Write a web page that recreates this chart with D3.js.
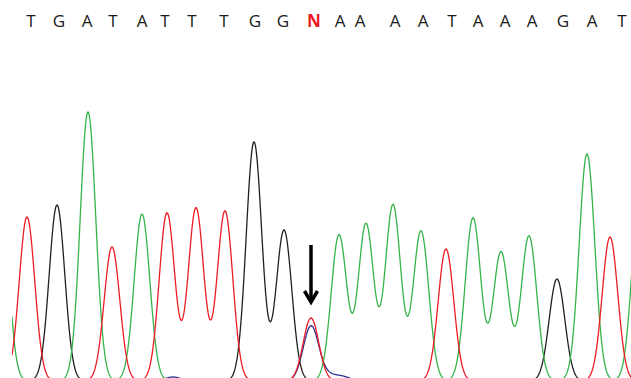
<!DOCTYPE html>
<html>
<head>
<meta charset="utf-8">
<script src="https://cdn.jsdelivr.net/npm/d3@7"></script>
<style>
  html, body { margin: 0; padding: 0; background: #fff; }
  svg { display: block; }
</style>
</head>
<body>
<div id="chart"></div>
<script>
// base calls and where they sit along the scan axis
const bases = ["T","G","A","T","A","T","T","T","G","G","N","A","A","A","A","T","A","A","A","G","A","T"];
const basePos = [31, 59, 87, 113, 142, 165, 192, 224, 255, 283, 314, 340, 360, 395, 423, 452, 478, 505, 532, 563, 592, 622];

// peak positions (scan) and heights (signal) for each dye channel
const peaksA = [[0, 210], [88, 269], [142, 167], [339, 146], [366, 157], [393, 176], [421, 150], [473, 163], [501, 129], [529, 145], [587, 227], [640, 190]];
const peaksT = [[27, 164], [112, 134], [167, 168], [196, 173], [225, 170], [311, 63], [446, 132], [610, 144]];
const peaksG = [[57, 176], [254, 239], [284, 151], [557, 102]];
const peaksC = [[173, 4], [311, 55], [329, 5], [343, 4]];

const mutationPos = 311;

const W = 631, H = 378;
const sigma = 7.8;

const svg = d3.select("#chart").append("svg")
  .attr("width", W).attr("height", H);

const x = d3.scaleLinear().domain([0, 631]).range([0, 631]);
const y = d3.scaleLinear().domain([0, 300]).range([381, 81]);

svg.append("defs").append("clipPath").attr("id", "plot")
  .append("rect").attr("x", x(12)).attr("y", 0).attr("width", W - x(12)).attr("height", H);

// trace = sum of gaussian-shaped peaks
function trace(peaks) {
  const pts = [];
  for (let s = 12; s <= 632; s += 0.5) {
    let v = 0;
    peaks.forEach(p => { v += p[1] * Math.exp(-((s - p[0]) ** 2) / (2 * sigma * sigma)); });
    pts.push([s, v]);
  }
  return pts;
}

const line = d3.line().x(d => x(d[0])).y(d => y(d[1]));

const channels = [
  { peaks: peaksC, color: "#2e3192" },
  { peaks: peaksG, color: "#231f20" },
  { peaks: peaksA, color: "#35b44a" },
  { peaks: peaksT, color: "#ec1c24" }
];

const g = svg.append("g").attr("clip-path", "url(#plot)");
channels.forEach(c => {
  g.append("path")
    .datum(trace(c.peaks))
    .attr("fill", "none")
    .attr("stroke", c.color)
    .attr("stroke-width", 1.3)
    .attr("d", line);
});

// sequence letters
svg.append("g").selectAll("text")
  .data(bases)
  .enter().append("text")
  .attr("x", (d, i) => x(basePos[i]))
  .attr("y", 27)
  .attr("text-anchor", "middle")
  .attr("font-family", "'Open Sans', sans-serif")
  .attr("font-size", 17)
  .attr("font-weight", d => d === "N" ? "bold" : "normal")
  .attr("fill", d => d === "N" ? "#ec1c24" : "#1a1a1a")
  .text(d => d);

// arrow pointing at the mixed peak
const ax = x(mutationPos);
svg.append("line")
  .attr("x1", ax).attr("x2", ax)
  .attr("y1", 245).attr("y2", 301)
  .attr("stroke", "#000").attr("stroke-width", 3.5);
svg.append("polyline")
  .attr("points", `${ax - 6.5},${291} ${ax},${302} ${ax + 6.5},${291}`)
  .attr("fill", "none")
  .attr("stroke", "#000")
  .attr("stroke-width", 3.5)
  .attr("stroke-linejoin", "miter");
</script>
</body>
</html>
